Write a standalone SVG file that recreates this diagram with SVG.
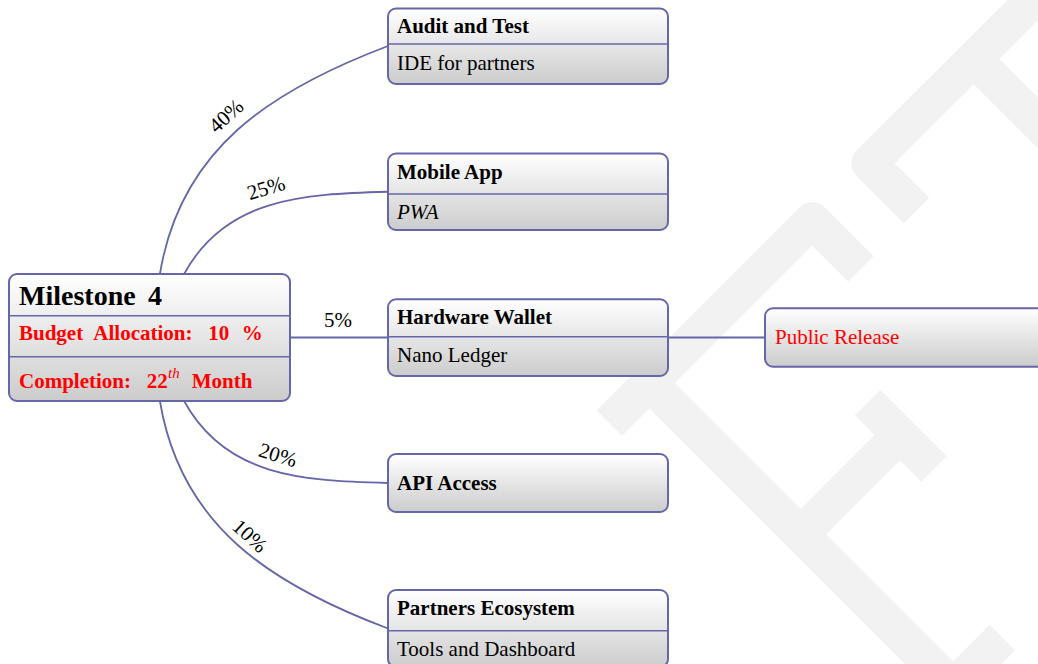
<svg xmlns="http://www.w3.org/2000/svg" width="1038" height="664" viewBox="0 0 1038 664">
  <defs>
    <linearGradient id="nodeFill" x1="0" y1="0" x2="0" y2="1">
      <stop offset="0" stop-color="#ffffff"/>
      <stop offset="1" stop-color="#cccccc"/>
    </linearGradient>
    <style>
      .box { fill: url(#nodeFill); stroke: #6666aa; stroke-width: 2; }
      .div { stroke: #6666aa; stroke-width: 1.6; }
      .edge { fill: none; stroke: #6666aa; stroke-width: 1.8; }
      .wm { fill: none; stroke: #f2f2f2; stroke-width: 36; stroke-linejoin: round; stroke-linecap: butt; }
      text { font-family: "Liberation Serif", "Times New Roman", serif; font-size: 21px; fill: #000000; }
      .b { font-weight: bold; }
      .i { font-style: italic; }
      .red { fill: #ff0000; }
      .lbl { text-anchor: middle; }
    </style>
  </defs>

  <rect x="0" y="0" width="1038" height="664" fill="#ffffff"/>

  <!-- faint background logo marks -->
  <g id="watermark">
    <path class="wm" d="M1066,-33 L869.25,163.25 L916.5,210.5"/>
    <path class="wm" d="M973.75,58.75 L1057.5,142.5"/>
    <path class="wm" d="M609.25,423.25 L812.25,220.25 L861,269"/>
    <path class="wm" d="M655.75,389.25 L953.25,686.75 L1002.5,637.5"/>
    <path class="wm" d="M800.75,534.25 L900,435"/>
    <path class="wm" d="M867.5,402.5 L934,469"/>
  </g>

  <!-- connectors with their share labels -->
  <g id="connectors">
    <path class="edge" d="M159.9,274 C180.3,149.4 269.9,90.7 388,46"/>
    <path class="edge" d="M184.1,274 C225.3,198.4 301.9,193.9 388,191.75"/>
    <path class="edge" d="M290,337.5 L388,337.5"/>
    <path class="edge" d="M184.1,401 C225.3,476.5 302,480.9 388,483"/>
    <path class="edge" d="M159.9,401 C180.4,525.4 270,584 388,628.5"/>
    <path class="edge" d="M668,337.5 L765,337.5"/>

    <text class="lbl" transform="translate(226,116) rotate(-42)" y="7">40%</text>
    <text class="lbl" transform="translate(266,188) rotate(-17)" y="7">25%</text>
    <text class="lbl" x="338" y="327">5%</text>
    <text class="lbl" transform="translate(278,455) rotate(17)" y="7">20%</text>
    <text class="lbl" transform="translate(250,536) rotate(42)" y="7">10%</text>
  </g>

  <g id="milestone">
    <rect class="box" x="9" y="274" width="281" height="127" rx="8"/>
    <line class="div" x1="9" y1="315.7" x2="290" y2="315.7"/>
    <line class="div" x1="9" y1="356.7" x2="290" y2="356.7"/>
    <text class="b" style="font-size:28px" y="305"><tspan x="19">Milestone</tspan><tspan x="148">4</tspan></text>
    <text class="b red" y="340"><tspan x="19">Budget</tspan><tspan x="93.3">Allocation:</tspan><tspan x="208.3">10</tspan><tspan x="241.7">%</tspan></text>
    <text class="b red" y="387.7"><tspan x="19">Completion:</tspan><tspan x="146.7">22</tspan></text>
    <text class="i red" style="font-size:15px" x="168" y="377.5">th</text>
    <text class="b red" x="191.7" y="387.7">Month</text>
  </g>

  <g id="audit">
    <rect class="box" x="388" y="8.5" width="280" height="75.5" rx="8"/>
    <line class="div" x1="388" y1="44" x2="668" y2="44"/>
    <text class="b" x="397" y="33.3">Audit and Test</text>
    <text x="397" y="69.5">IDE for partners</text>
  </g>

  <g id="mobile">
    <rect class="box" x="388" y="153.5" width="280" height="76.5" rx="8"/>
    <line class="div" x1="388" y1="194" x2="668" y2="194"/>
    <text class="b" x="397" y="178.5">Mobile App</text>
    <text class="i" x="397" y="219">PWA</text>
  </g>

  <g id="hardware">
    <rect class="box" x="388" y="299.3" width="280" height="76.7" rx="8"/>
    <line class="div" x1="388" y1="336.7" x2="668" y2="336.7"/>
    <text class="b" x="397" y="324.3">Hardware Wallet</text>
    <text x="397" y="361.7">Nano Ledger</text>
  </g>

  <g id="api">
    <rect class="box" x="388" y="454" width="280" height="58" rx="8"/>
    <text class="b" x="397" y="490">API Access</text>
  </g>

  <g id="partners">
    <rect class="box" x="388" y="590" width="280" height="77" rx="8"/>
    <line class="div" x1="388" y1="630.7" x2="668" y2="630.7"/>
    <text class="b" x="397" y="615">Partners Ecosystem</text>
    <text x="397" y="655.7">Tools and Dashboard</text>
  </g>

  <g id="public">
    <rect class="box" x="765" y="308.3" width="300" height="58.4" rx="8"/>
    <text class="red" x="775" y="344.3">Public Release</text>
  </g>
</svg>
